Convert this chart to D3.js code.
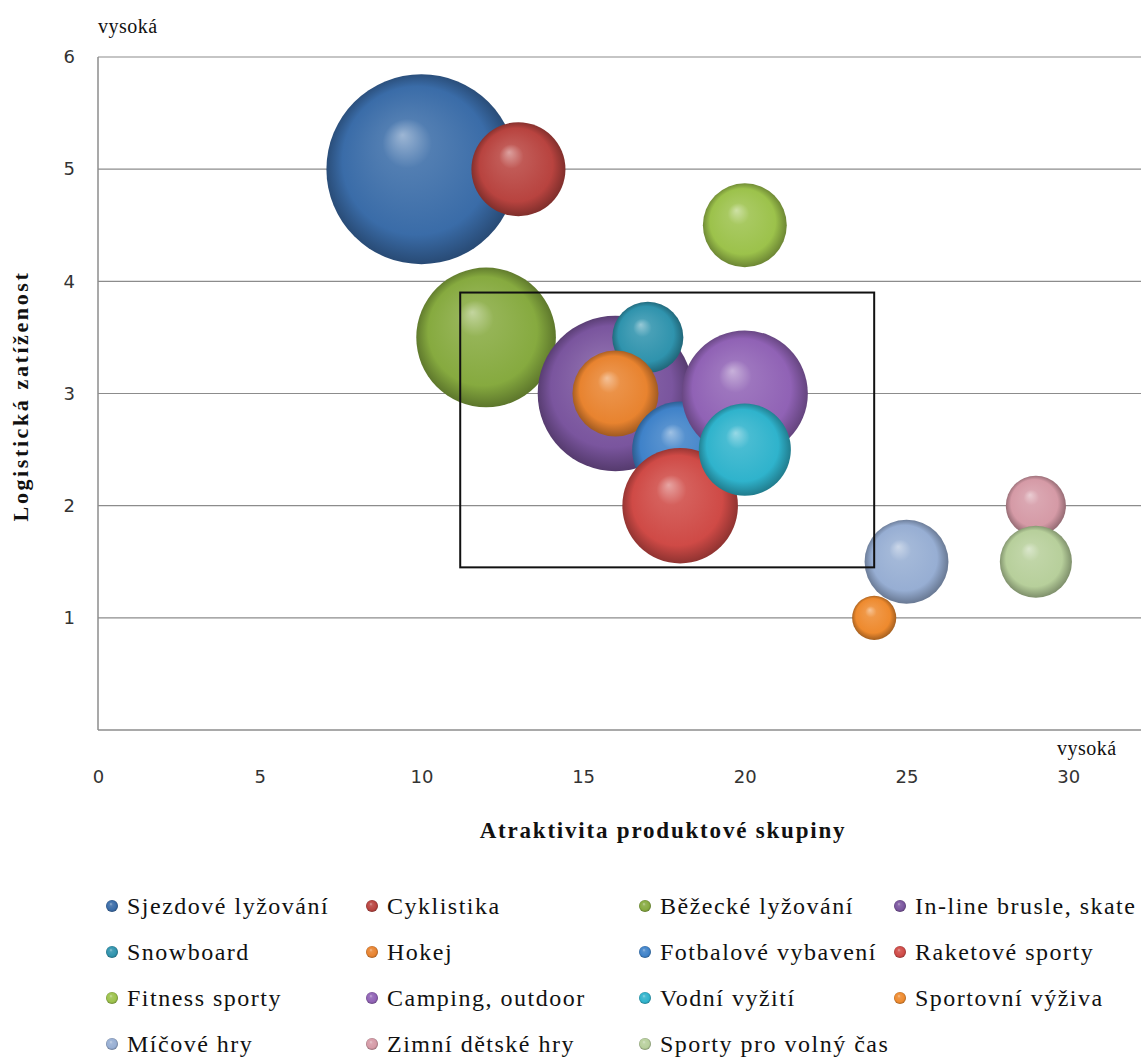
<!DOCTYPE html>
<html><head><meta charset="utf-8">
<script src="https://cdn.jsdelivr.net/npm/d3@7"></script>
<style>body{margin:0;background:#fff}</style>
</head><body><div id="chart"></div>
<script>
const categories = ["Sjezdové lyžování","Cyklistika","Běžecké lyžování","In-line brusle, skate","Snowboard","Hokej","Fotbalové vybavení","Raketové sporty","Fitness sporty","Camping, outdoor","Vodní vyžití","Sportovní výživa","Míčové hry","Zimní dětské hry","Sporty pro volný čas"];
const attractiveness = [10,13,12,16,17,16,18,18,20,20,20,24,25,29,29];
const logisticLoad = [5,5,3.5,3,3.5,3,2.5,2,4.5,3,2.5,1,1.5,2,1.5];
const bubbleSize = [100,24.5,54,67,14,20.5,25.5,37,19.5,44,23.5,5.4,19.5,10,14.4];
const colors = ["#3a6ca8","#b8433f","#86aa3f","#7a559e","#2f93ad","#e8832f","#3f82c9","#cf4a46","#9cc24b","#9062b5","#2fb3cc","#ee8a2e","#97aed3","#d59aa6","#b7cf9b"];
const xTicks = [0,5,10,15,20,25,30];
const yTicks = [1,2,3,4,5,6];

const W = 1141, H = 1063;
const svg = d3.select("#chart").append("svg").attr("width", W).attr("height", H);
const defs = svg.append("defs");
colors.forEach((c, i) => {
  const base = d3.color(c);
  const g = defs.append("radialGradient").attr("id", "g" + i)
    .attr("cx", "50%").attr("cy", "50%").attr("r", "52%")
    .attr("fx", "40%").attr("fy", "32%");
  g.append("stop").attr("offset", "0%").attr("stop-color", d3.interpolateRgb(c, "#ffffff")(0.5));
  g.append("stop").attr("offset", "25%").attr("stop-color", d3.interpolateRgb(c, "#ffffff")(0.12));
  g.append("stop").attr("offset", "75%").attr("stop-color", c);
  g.append("stop").attr("offset", "100%").attr("stop-color", base.darker(1.2).formatHex());
});

const x = d3.scaleLinear().domain([0, 32.25]).range([98, 1141]);
const y = d3.scaleLinear().domain([0, 6]).range([730, 57]);
const r = d3.scaleSqrt().domain([0, 100]).range([0, 95]);

// grid
svg.append("g").selectAll("line").data(yTicks).join("line")
  .attr("x1", x(0)).attr("x2", 1141).attr("y1", d => y(d)).attr("y2", d => y(d))
  .attr("stroke", "#8c8c8c").attr("stroke-width", 1.2);
svg.append("line").attr("x1", x(0)).attr("x2", 1141).attr("y1", y(0)).attr("y2", y(0)).attr("stroke", "#8c8c8c").attr("stroke-width", 1.5);
svg.append("line").attr("x1", x(0)).attr("x2", x(0)).attr("y1", y(6)).attr("y2", y(0)).attr("stroke", "#8c8c8c").attr("stroke-width", 1.5);

// axes (labels only)
const fmt = d3.format("d");
const xAxis = svg.append("g").attr("transform", `translate(0,${y(0)})`)
  .call(d3.axisBottom(x).tickValues(xTicks).tickFormat(fmt).tickSize(0).tickPadding(40));
xAxis.select(".domain").remove();
xAxis.selectAll("text").attr("font-family", "DejaVu Sans").attr("font-size", 18).attr("fill", "#333");
const yAxis = svg.append("g").attr("transform", `translate(${x(0)},0)`)
  .call(d3.axisLeft(y).tickValues(yTicks).tickFormat(fmt).tickSize(0).tickPadding(23));
yAxis.select(".domain").remove();
yAxis.selectAll("text").attr("font-family", "DejaVu Sans").attr("font-size", 18).attr("fill", "#333");

// bubbles
const data = categories.map((c, i) => ({c, i, x: attractiveness[i], y: logisticLoad[i], s: bubbleSize[i]}));
svg.append("g").selectAll("circle").data(data).join("circle")
  .attr("cx", d => x(d.x)).attr("cy", d => y(d.y)).attr("r", d => r(d.s))
  .attr("fill", d => `url(#g${d.i})`);

// highlight rectangle
svg.append("rect").attr("x", x(11.2)).attr("y", y(3.9)).attr("width", x(24) - x(11.2)).attr("height", y(1.45) - y(3.9))
  .attr("fill", "none").attr("stroke", "#111").attr("stroke-width", 2);

// texts
const serif = "Liberation Serif";
svg.append("text").attr("x", 98).attr("y", 33).text("vysoká").attr("font-family", serif).attr("font-size", 20).attr("letter-spacing", 0.5).attr("fill", "#111");
svg.append("text").attr("x", 1057).attr("y", 755).text("vysoká").attr("font-family", serif).attr("font-size", 20).attr("letter-spacing", 0.5).attr("fill", "#111");
svg.append("text").attr("x", 663).attr("y", 838).attr("text-anchor", "middle").text("Atraktivita produktové skupiny")
  .attr("font-family", serif).attr("font-weight", "bold").attr("font-size", 23).attr("letter-spacing", 1.8).attr("fill", "#111");
svg.append("text").attr("transform", "translate(28,396) rotate(-90)").attr("text-anchor", "middle").text("Logistická zatíženost")
  .attr("font-family", serif).attr("font-weight", "bold").attr("font-size", 22).attr("letter-spacing", 2.6).attr("fill", "#111");

// legend
const colX = [112, 372, 645, 900];
const rowY = [906, 952, 998, 1044];
const leg = svg.append("g").selectAll("g").data(data).join("g")
  .attr("transform", d => `translate(${colX[d.i % 4]},${rowY[Math.floor(d.i / 4)]})`);
leg.append("circle").attr("r", 6).attr("fill", d => `url(#g${d.i})`);
leg.append("text").attr("x", 15).attr("y", 8).text(d => d.c)
  .attr("font-family", serif).attr("font-size", 24).attr("letter-spacing", 1.5).attr("fill", "#111");
</script>
</body></html>
